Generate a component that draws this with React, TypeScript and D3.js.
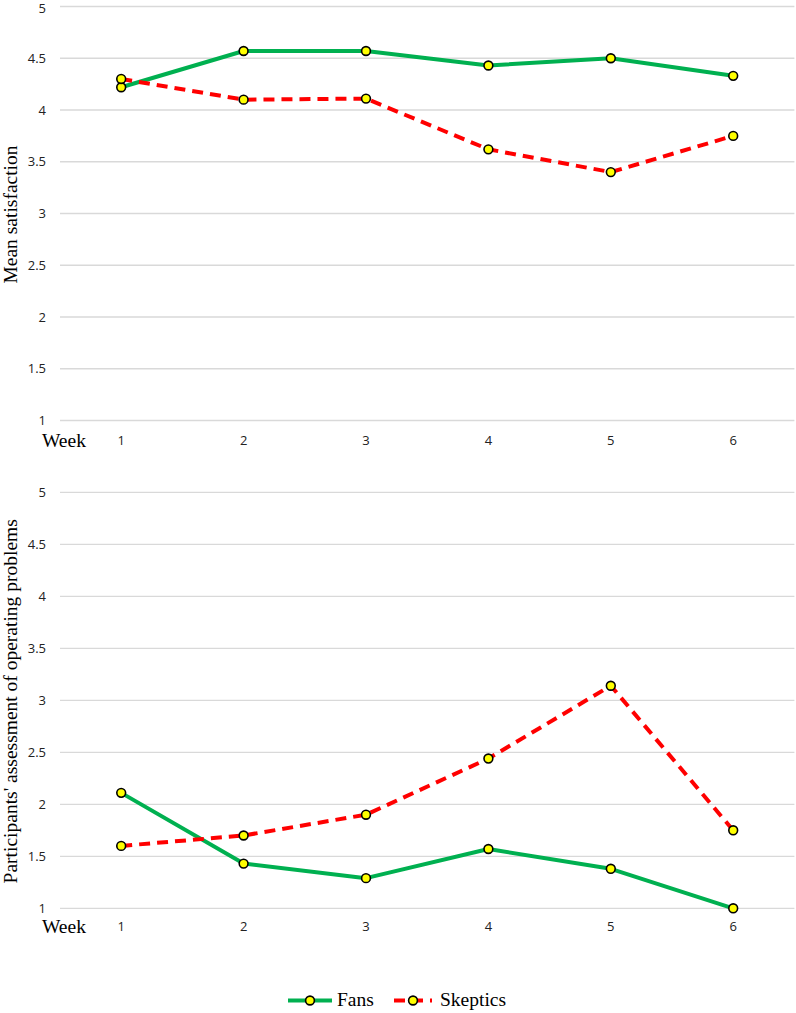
import React from "react";
import * as d3 from "d3";

const weeks = ["1", "2", "3", "4", "5", "6"];
const yTicks = [1, 1.5, 2, 2.5, 3, 3.5, 4, 4.5, 5];

// top panel: mean satisfaction
const satisfactionFans = [4.22, 4.57, 4.57, 4.43, 4.5, 4.33];
const satisfactionSkeptics = [4.3, 4.1, 4.11, 3.62, 3.4, 3.75];

// bottom panel: operating problems
const problemsFans = [2.11, 1.43, 1.29, 1.57, 1.38, 1.0];
const problemsSkeptics = [1.6, 1.7, 1.9, 2.44, 3.14, 1.75];

const GREEN = "#00B050";
const RED = "#FF0000";
const SERIF = "'Liberation Serif', 'Times New Roman', serif";
const SANS = "'Open Sans', 'Noto Sans', sans-serif";

const width = 796;
const height = 1013;

const x = d3.scalePoint<string>().domain(weeks).range([60, 794.4]).padding(0.5);

interface PanelProps {
  top: number;
  bottom: number;
  title: string;
  fans: number[];
  skeptics: number[];
  weekY: number;
}

const Marker = ({ cx, cy }: { cx: number; cy: number }) => (
  <circle cx={cx} cy={cy} r={4.4} fill="#FFFF00" stroke="#000" strokeWidth={1.6} />
);

const Panel: React.FC<PanelProps> = ({ top, bottom, title, fans, skeptics, weekY }) => {
  const y = d3.scaleLinear().domain([1, 5]).range([bottom, top]);
  const line = d3
    .line<number>()
    .x((_, i) => x(weeks[i]) || 0)
    .y((d) => y(d));

  return (
    <g>
      {yTicks.map((t) => (
        <g key={t}>
          <line x1={60} x2={794.4} y1={y(t)} y2={y(t)} stroke="#D9D9D9" strokeWidth={1.3} />
          <text
            x={46}
            y={Math.max(y(t) + 4.5, 13)}
            textAnchor="end"
            fontFamily={SANS}
            fontSize={13}
            fill="#222"
          >
            {t}
          </text>
        </g>
      ))}
      {weeks.map((w) => (
        <text
          key={w}
          x={x(w)}
          y={weekY - 2}
          textAnchor="middle"
          fontFamily={SANS}
          fontSize={13}
          fill="#222"
        >
          {w}
        </text>
      ))}
      <text x={42} y={weekY} fontFamily={SERIF} fontSize={19.5} fill="#000">
        Week
      </text>
      <text
        transform={`translate(17,${(top + bottom) / 2 + 1}) rotate(-90)`}
        textAnchor="middle"
        fontFamily={SERIF}
        fontSize={19.5}
        fill="#000"
      >
        {title}
      </text>

      <path d={line(fans) || ""} fill="none" stroke={GREEN} strokeWidth={4} strokeLinejoin="round" />
      <path
        d={line(skeptics) || ""}
        fill="none"
        stroke={RED}
        strokeWidth={4}
        strokeDasharray="11,7"
      />
      {fans.map((v, i) => (
        <Marker key={`f${i}`} cx={x(weeks[i]) || 0} cy={y(v)} />
      ))}
      {skeptics.map((v, i) => (
        <Marker key={`s${i}`} cx={x(weeks[i]) || 0} cy={y(v)} />
      ))}
    </g>
  );
};

export default function App() {
  return (
    <svg
      width={width}
      height={height}
      viewBox={`0 0 ${width} ${height}`}
      style={{ position: "absolute", left: 0, top: 0, background: "#fff" }}
    >
      <rect width={width} height={height} fill="#fff" />
      <Panel
        top={6.5}
        bottom={420.5}
        title="Mean satisfaction"
        fans={satisfactionFans}
        skeptics={satisfactionSkeptics}
        weekY={447}
      />
      <Panel
        top={492.3}
        bottom={908.3}
        title="Participants' assessment of operating problems"
        fans={problemsFans}
        skeptics={problemsSkeptics}
        weekY={933}
      />
      {/* legend */}
      <g>
        <line x1={288} x2={332} y1={1000.5} y2={1000.5} stroke={GREEN} strokeWidth={4} />
        <Marker cx={310} cy={1000.5} />
        <text x={337} y={1006} fontFamily={SERIF} fontSize={19.5} fill="#000">
          Fans
        </text>
        <line x1={392} x2={432} y1={1000.5} y2={1000.5} stroke={RED} strokeWidth={4} strokeDasharray="11,7" strokeDashoffset={-2} />
        <Marker cx={413} cy={1000.5} />
        <text x={440} y={1006} fontFamily={SERIF} fontSize={19.5} fill="#000">
          Skeptics
        </text>
      </g>
    </svg>
  );
}
